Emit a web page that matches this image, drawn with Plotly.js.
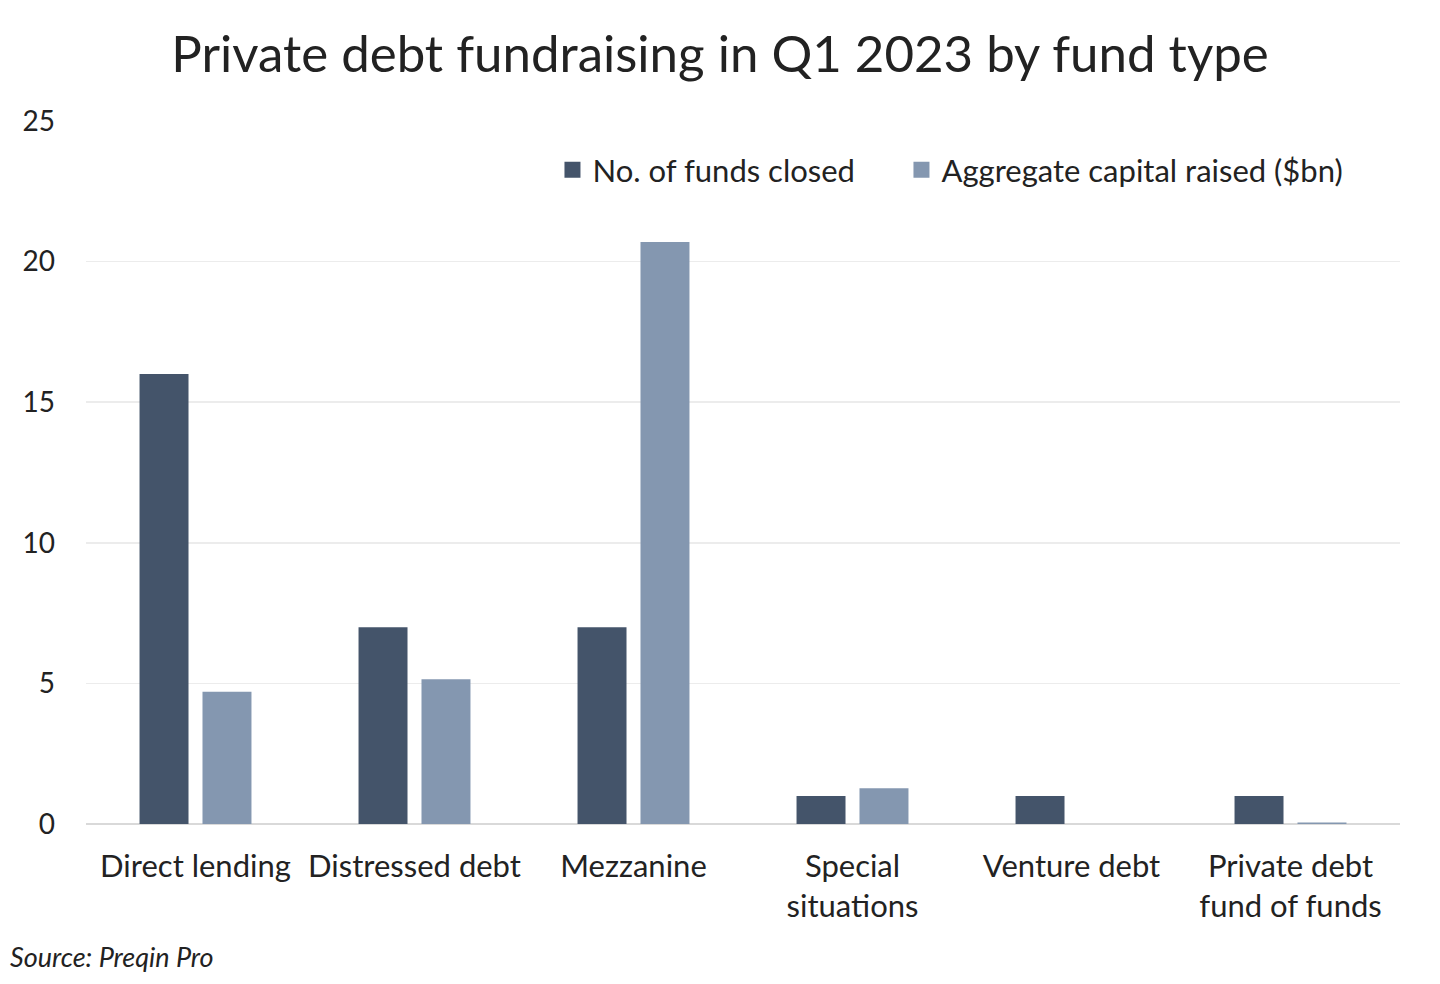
<!DOCTYPE html>
<html><head><meta charset="utf-8">
<script src="https://cdn.plot.ly/plotly-3.0.1.min.js"></script>
<style>html,body{margin:0;padding:0;background:#fff;}#chart{width:1440px;height:984px;}</style>
</head><body><div id="chart"></div>
<script>
const categories = ["Direct lending","Distressed debt","Mezzanine","Special<br>situations","Venture debt","Private debt<br>fund of funds"];
const fundsClosed = [16, 7, 7, 1, 1, 1];
const capitalRaised = [4.7, 5.15, 20.7, 1.27, 0, 0.05];
const yTicks = [0, 5, 10, 15, 20, 25];
const seriesNames = ['No. of funds closed', 'Aggregate capital raised ($bn)'];
const seriesColors = ['#44546a', '#8497b0'];

const font = "Lato, 'Noto Sans', sans-serif";
const data = [
  {type:'bar', name:seriesNames[0], x:categories, y:fundsClosed, marker:{color:seriesColors[0]}, showlegend:false},
  {type:'bar', name:seriesNames[1], x:categories, y:capitalRaised, marker:{color:seriesColors[1]}, showlegend:false},
  {type:'scatter', mode:'markers', name:seriesNames[0], x:[null], y:[null], marker:{symbol:'square', size:16, color:seriesColors[0]}, legend:'legend'},
  {type:'scatter', mode:'markers', name:seriesNames[1], x:[null], y:[null], marker:{symbol:'square', size:16, color:seriesColors[1]}, legend:'legend2'}
];
const legendBase = {orientation:'h', xanchor:'left', y:0.93, yanchor:'middle', font:{size:31, color:'#222'}, itemwidth:30, bgcolor:'rgba(0,0,0,0)'};
const layout = {
  width:1440, height:984,
  margin:{l:86, r:40, t:121, b:160},
  paper_bgcolor:'#fff', plot_bgcolor:'#fff',
  font:{family:font, color:'#222', size:28},
  title:{text:'Private debt fundraising in Q1 2023 by fund type', x:0.5, xanchor:'center', y:0.945, yanchor:'middle', font:{size:51, color:'#222', family:font}},
  barmode:'group', bargap:0.425, bargroupgap:0.222,
  xaxis:{type:'category', tickfont:{size:31, color:'#222'}, showgrid:false, showline:false, ticks:'', automargin:false, ticklabelstandoff:21},
  yaxis:{range:[0,25], tickvals:yTicks, ticktext:yTicks.map(String), tickfont:{size:28, color:'#222'}, gridcolor:'#ececec', gridwidth:1.5, zeroline:true, zerolinecolor:'#d9d9d9', zerolinewidth:2, ticks:'', ticklen:0, automargin:false, fixedrange:true, ticklabelstandoff:30},
  legend:Object.assign({}, legendBase, {x:0.355}),
  legend2:Object.assign({}, legendBase, {x:0.6206}),
  showlegend:true,
  annotations:[{text:'<i>Source: Preqin Pro</i>', xref:'paper', yref:'paper', x:-0.0596, y:-0.189, xanchor:'left', yanchor:'middle', showarrow:false, font:{size:27, color:'#222', family:font}}]
};
Plotly.newPlot('chart', data, layout, {displayModeBar:false, staticPlot:true});
</script></body></html>
